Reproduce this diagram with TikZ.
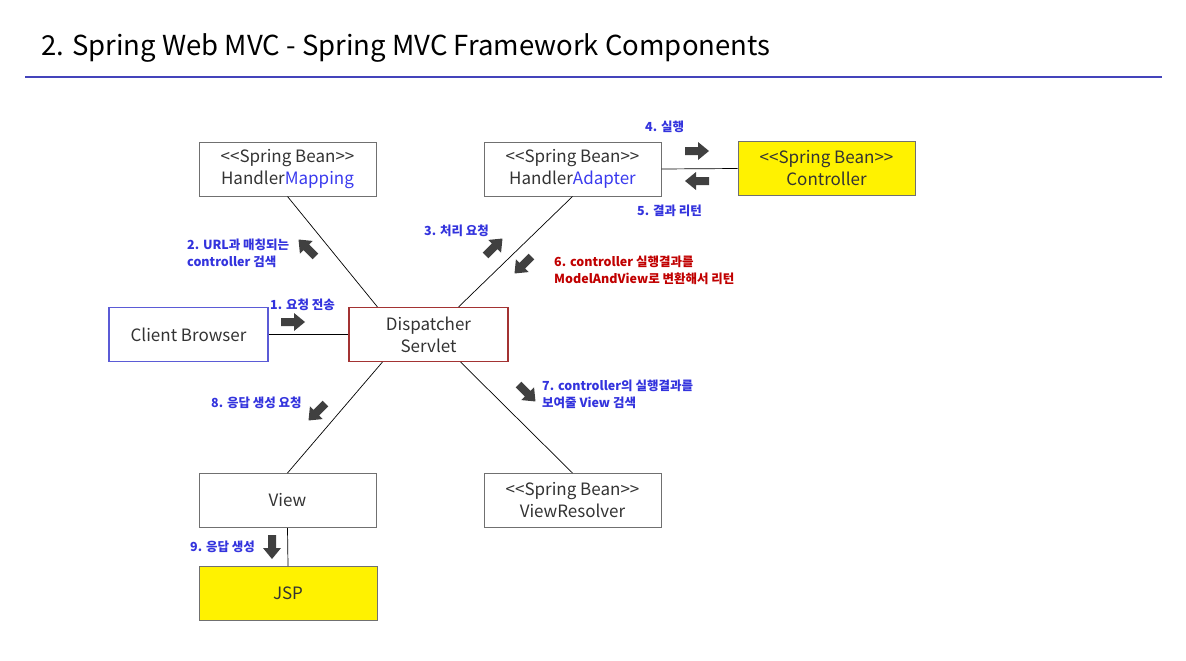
\documentclass[tikz,border=0pt]{standalone}
\usepackage{fontspec}
\setmainfont{Noto Sans CJK KR}
\definecolor{boxtext}{HTML}{333333}
\definecolor{hblue}{HTML}{3A3AEE}
\definecolor{lblue}{HTML}{3333DD}
\definecolor{lred}{HTML}{C00000}
\definecolor{agray}{HTML}{404040}
\definecolor{bgray}{HTML}{707070}
\definecolor{cblue}{HTML}{5B5BD6}
\definecolor{dred}{HTML}{A33333}
\definecolor{titleline}{HTML}{4444BB}
\newcommand{\springbean}{<{}<Spring Bean>{}>}
\tikzset{
  x=1pt, y=-1pt,
  box/.style={draw=bgray, line width=1pt, minimum width=177pt, minimum height=54pt, align=center, text=boxtext, font=\fontsize{17}{22}\selectfont, inner sep=0pt},
  lbl/.style={anchor=west, align=left, font=\fontsize{12.5}{17}\selectfont\bfseries, text=lblue, inner sep=0pt},
  conn/.style={draw=black, line width=0.7pt},
  blk/.pic={\fill[agray] (-12,-4) -- (1,-4) -- (1,-9) -- (12,0) -- (1,9) -- (1,4) -- (-12,4) -- cycle;}
}
\begin{document}
\begin{tikzpicture}
\useasboundingbox (0,0) rectangle (1186,661);
% title
\node[anchor=west, inner sep=0pt, font=\fontsize{27.5}{32}\selectfont, text=black] (title) at (41,48) {2. Spring Web MVC - Spring MVC Framework Components};
\draw[titleline, line width=1.5pt] (25,77) -- (1162,77);

% boxes
\node[box] (hm) at (287.5,169) {\springbean\\Handler\textcolor{hblue}{Mapping}};
\node[box] (ha) at (572.5,169) {\springbean\\Handler\textcolor{hblue}{Adapter}};
\node[box, fill=yellow] (ctl) at (826.5,168.5) {\springbean\\Controller};
\node[box, draw=cblue, line width=1.2pt, minimum width=159pt] (cb) at (188.5,334.5) {Client Browser};
\node[box, draw=dred, line width=1.2pt, minimum width=159pt] (ds) at (428.5,334.5) {Dispatcher\\Servlet};
\node[box] (view) at (287.5,500.5) {View};
\node[box] (vr) at (572.5,500.5) {\springbean\\ViewResolver};
\node[box, fill=yellow, minimum width=178pt] (jsp) at (288,593.5) {JSP};

% connectors
\draw[conn] (hm.south) -- ([xshift=29pt]ds.north west);
\draw[conn] (ha.south) -- ([xshift=-50pt]ds.north east);
\draw[conn] (ha.east) -- (ctl.west);
\draw[conn] (cb.east) -- (ds.west);
\draw[conn] ([xshift=34pt]ds.south west) -- (view.north);
\draw[conn] ([xshift=-48pt]ds.south east) -- (vr.north);
\draw[conn] (view.south) -- (jsp.north);

% block arrows
\pic[rotate=0] at (293,322) {blk};
\pic[rotate=135] at (307,248) {blk};
\pic[rotate=45] at (494,247) {blk};
\pic[rotate=225] at (523,265) {blk};
\pic[rotate=0] at (697,151) {blk};
\pic[rotate=180] at (697,181) {blk};
\pic[rotate=-45] at (527,393) {blk};
\pic[rotate=225] at (317,412) {blk};
\pic[rotate=-90] at (272,547) {blk};

% labels
\node[lbl] (l1) at (270,305) {1. 요청 전송};
\node[lbl] (l2) at (187,253) {2. URL과 매칭되는\\controller 검색};
\node[lbl] (l3) at (424,231) {3. 처리 요청};
\node[lbl] (l4) at (645,127) {4. 실행};
\node[lbl] (l5) at (637,211) {5. 결과 리턴};
\node[lbl, text=lred] (l6) at (554,270) {6. controller 실행결과를\\ModelAndView로 변환해서 리턴};
\node[lbl] (l7) at (542,394.5) {7. controller의 실행결과를\\보여줄 View 검색};
\node[lbl] (l8) at (211,403) {8. 응답 생성 요청};
\node[lbl] (l9) at (190,547) {9. 응답 생성};
\end{tikzpicture}
\end{document}
